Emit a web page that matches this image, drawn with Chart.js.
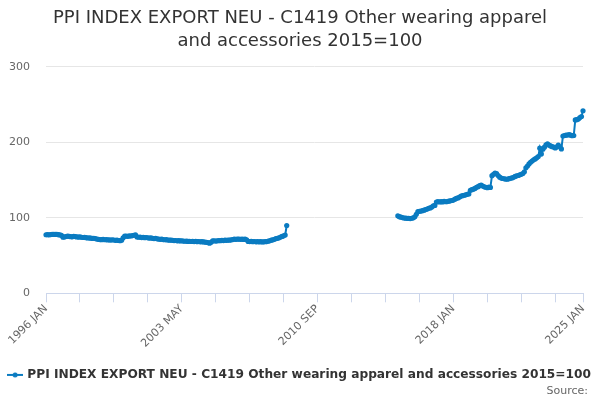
<!DOCTYPE html>
<html>
<head>
<meta charset="utf-8">
<script src="https://cdn.jsdelivr.net/npm/chart.js@4"></script>
<style>
  html, body { margin: 0; padding: 0; background: #fff; }
  #wrap { width: 600px; height: 400px; }
</style>
</head>
<body>
<div id="wrap"><canvas id="myChart" width="600" height="400"></canvas></div>
<script>
//////////////////////
// data
//////////////////////

const chartTitle = ['PPI INDEX EXPORT NEU - C1419 Other wearing apparel', 'and accessories 2015=100'];
const seriesName = 'PPI INDEX EXPORT NEU - C1419 Other wearing apparel and accessories 2015=100';
const sourceText = 'Source:';
const monthNames = ['JAN', 'FEB', 'MAR', 'APR', 'MAY', 'JUN', 'JUL', 'AUG', 'SEP', 'OCT', 'NOV', 'DEC'];
const firstYear = 1996;
const lastYear = 2025; // series ends in JAN of this year
const tickLabels = ['1996 JAN', '2003 MAY', '2010 SEP', '2018 JAN', '2025 JAN'];
const yTicks = [0, 100, 200, 300];

// 1996 JAN - 2009 JAN
const earlyValues = [
  77.5, 77.6, 77.4, 77.8, 78.0, 78.1, 77.9, 78.2, 77.6, 77.3, 76.8, 74.3,
  74.6, 75.2, 75.6, 75.4, 75.0, 74.8, 75.3, 75.1, 74.6, 74.4, 74.7, 74.2,
  73.9, 74.1, 73.6, 73.2, 73.5, 73.0, 72.6, 72.9, 72.4, 71.8, 71.5, 71.2,
  71.0, 71.3, 70.9, 71.1, 70.7, 70.8, 70.5, 70.9, 70.6, 70.2, 70.4, 69.9,
  69.7, 70.3, 73.4, 75.6, 75.8, 75.5, 76.0, 75.9, 76.4, 76.8, 77.4, 74.6,
  74.2, 74.4, 73.8, 74.0, 73.6, 73.9, 73.4, 73.1, 73.3, 72.8, 72.5, 72.7,
  72.1, 71.8, 71.5, 71.7, 71.2, 70.9, 71.0, 70.6, 70.3, 70.5, 70.1, 69.8,
  69.9, 69.5, 69.7, 69.3, 69.6, 69.2, 68.9, 69.1, 68.7, 68.9, 68.6, 68.8,
  68.5, 68.7, 68.3, 68.6, 68.2, 68.4, 68.0, 67.8, 67.5, 67.2, 66.4, 67.6,
  69.4, 69.6, 69.2, 69.5, 69.8, 69.7, 70.0, 69.8, 70.3, 70.1, 70.5, 70.4,
  70.8, 71.1, 71.6, 71.4, 71.7, 71.8, 71.5, 71.7, 71.3, 71.6, 70.9, 68.7,
  68.5, 68.7, 68.3, 68.6, 68.2, 68.4, 68.1, 68.3, 68.0, 68.2, 68.4, 68.5,
  69.0, 69.6, 70.3, 70.8, 71.5, 72.4, 72.8, 73.5, 74.4, 75.3, 76.1, 77.2,
  89.8
];

// 2009 FEB - 2014 DEC has no values
const missingMonths = 71;

// 2015 JAN - 2025 JAN
const lateValues = [
  102.6, 101.5, 100.8, 100.2, 99.7, 99.5, 99.3, 99.1, 99.0, 99.4, 99.9, 101.2,
  104.5, 108.2, 108.6, 108.9, 109.4, 110.1, 110.8, 111.5, 112.6, 113.0, 114.2, 115.8,
  116.3, 120.8, 121.4, 120.9, 121.3, 121.0, 121.6, 121.2, 121.5, 122.0, 122.4, 122.9,
  123.4, 124.6, 125.8, 126.3, 127.5, 128.7, 129.2, 129.8, 130.4, 131.1, 131.6, 136.4,
  137.2, 137.8, 138.9, 140.3, 141.2, 142.5, 143.4, 142.1, 141.0, 140.4, 139.9, 140.6,
  140.2, 155.8, 157.6, 159.3, 158.4, 155.9, 153.8, 152.6, 152.0, 151.6, 151.3, 151.0,
  151.8, 152.3, 152.7, 153.6, 154.8, 155.5, 156.0, 156.8, 157.5, 158.6, 160.8, 166.2,
  168.5, 171.3, 173.4, 175.2, 176.8, 177.9, 179.4, 181.0, 192.1, 184.6, 190.8, 193.5,
  196.5, 197.8, 196.2, 195.1, 194.2, 193.6, 192.4, 193.8, 196.3, 194.0, 191.2, 208.3,
  208.9, 209.3, 209.6, 210.1, 209.4, 208.7, 208.9, 229.6, 229.9, 230.8, 232.6, 234.1,
  241.7
];

//////////////////////
// build
//////////////////////

const lineColor = '#0a7bc1';

function buildLabels() {
  const labels = [];
  for (let y = firstYear; y <= lastYear; y++) {
    for (let m = 0; m < 12; m++) {
      labels.push(y + ' ' + monthNames[m]);
      if (y === lastYear) return labels;
    }
  }
  return labels;
}

const labels = buildLabels();
const values = earlyValues.concat(new Array(missingMonths).fill(null), lateValues);

// little line+dot symbol for the legend
function legendSymbol() {
  const c = document.createElement('canvas');
  c.width = 16;
  c.height = 6;
  const ctx = c.getContext('2d');
  ctx.strokeStyle = lineColor;
  ctx.lineWidth = 2;
  ctx.beginPath();
  ctx.moveTo(0, 3);
  ctx.lineTo(16, 3);
  ctx.stroke();
  ctx.fillStyle = lineColor;
  ctx.beginPath();
  ctx.arc(8, 3, 2.5, 0, Math.PI * 2);
  ctx.fill();
  return c;
}

// minor ticks every 22 months, the last one on the final month
const tickIndexes = [];
for (let i = 0; i < labels.length; i += 22) tickIndexes.push(i);
if (tickIndexes[tickIndexes.length - 1] !== labels.length - 1) tickIndexes.push(labels.length - 1);

// "Source:" credit in the bottom right corner
const sourcePlugin = {
  id: 'sourceText',
  afterDraw: function (chart) {
    const ctx = chart.ctx;
    ctx.save();
    ctx.font = '11px "DejaVu Sans"';
    ctx.fillStyle = '#666666';
    ctx.textAlign = 'right';
    ctx.textBaseline = 'middle';
    ctx.fillText(sourceText, 588, 391);
    ctx.restore();
  }
};

const data = {
  labels: labels,
  datasets: [{
    label: seriesName,
    data: values,
    borderColor: lineColor,
    backgroundColor: lineColor,
    borderWidth: 2,
    pointRadius: 2.6,
    pointBorderWidth: 0,
    pointHoverRadius: 3,
    spanGaps: false,
    tension: 0
  }]
};

const config = {
  type: 'line',
  data: data,
  plugins: [sourcePlugin],
  options: {
    responsive: false,
    animation: false,
    devicePixelRatio: 1,
    layout: {
      padding: { left: 0, right: 0, top: 0, bottom: 9 }
    },
    scales: {
      x: {
        offset: false,
        border: { display: true, color: '#ccd6eb', width: 1 },
        grid: {
          drawOnChartArea: false,
          drawTicks: true,
          tickLength: 9,
          color: '#ccd6eb'
        },
        afterBuildTicks: function (scale) {
          scale.ticks = tickIndexes.map(v => ({ value: v }));
        },
        afterFit: function (scale) {
          scale.height = 71.5;
        },
        ticks: {
          autoSkip: false,
          minRotation: 45,
          maxRotation: 45,
          padding: 0,
          color: '#666666',
          font: { family: 'DejaVu Sans', size: 11 },
          callback: function (value) {
            const lab = this.getLabelForValue(value);
            return tickLabels.includes(lab) ? lab : '';
          }
        }
      },
      y: {
        min: 0,
        max: 300,
        border: { display: false },
        grid: { color: '#e6e6e6', drawTicks: false },
        afterBuildTicks: function (scale) {
          scale.ticks = yTicks.map(v => ({ value: v }));
        },
        afterFit: function (scale) {
          scale.width = 46;
        },
        ticks: {
          padding: 16,
          color: '#666666',
          font: { family: 'DejaVu Sans', size: 11 }
        }
      },
      // empty strip on the right so the plot stops short of the edge
      yRight: {
        position: 'right',
        min: 0,
        max: 300,
        border: { display: false },
        grid: { display: false },
        ticks: { display: false },
        afterFit: function (scale) {
          scale.width = 17;
        }
      }
    },
    plugins: {
      title: {
        display: true,
        text: chartTitle,
        color: '#333333',
        font: { family: 'DejaVu Sans', size: 18, weight: 'normal', lineHeight: 1.27 },
        padding: { top: 7, bottom: 14 }
      },
      legend: {
        display: true,
        position: 'bottom',
        labels: {
          usePointStyle: true,
          pointStyle: legendSymbol(),
          color: '#333333',
          font: { family: 'DejaVu Sans', size: 12.2, weight: 'bold' },
          padding: 4,
          generateLabels: function (chart) {
            return [{
              text: seriesName,
              fillStyle: lineColor,
              strokeStyle: lineColor,
              pointStyle: legendSymbol(),
              datasetIndex: 0,
              fontColor: '#333333'
            }];
          }
        }
      },
      tooltip: { enabled: false }
    }
  }
};

let canvasChart = document.getElementById('myChart');
const myChart = new Chart(canvasChart, config);
</script>
</body>
</html>
